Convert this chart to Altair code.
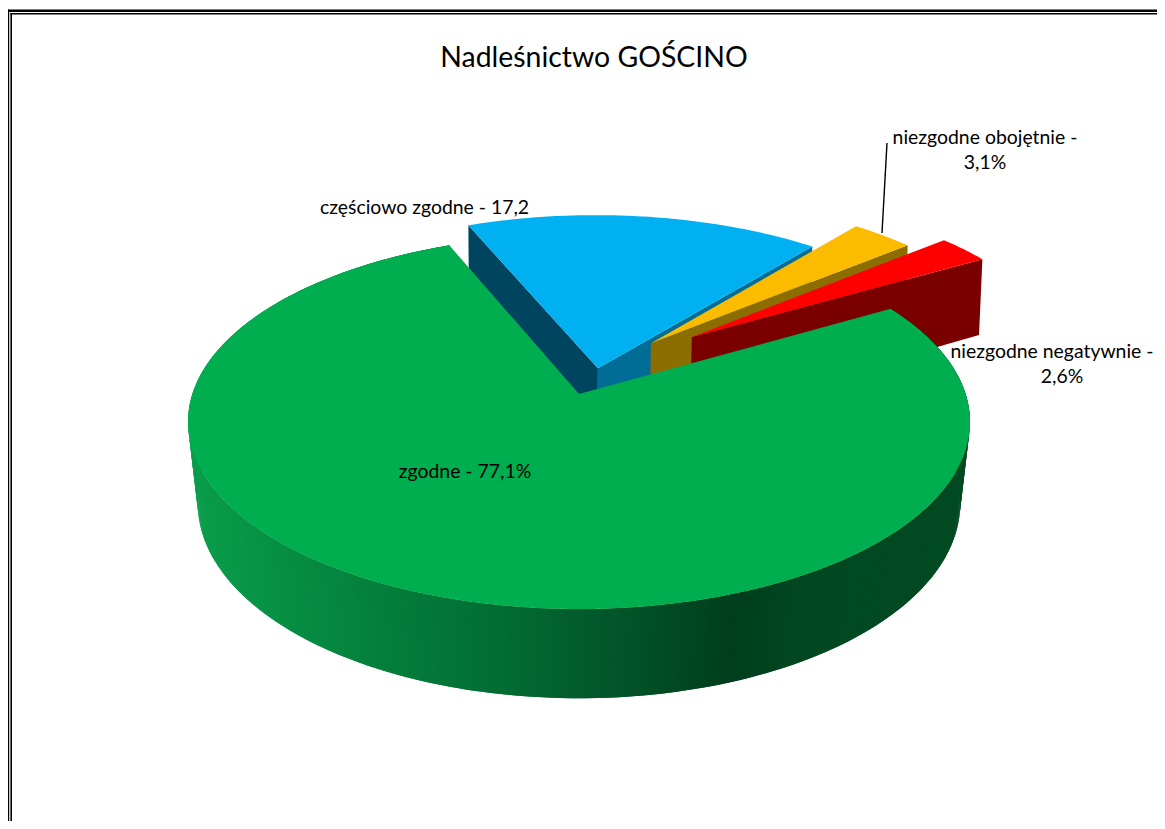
import math
import altair as alt

# ---- data ----
categories = ["zgodne", "częściowo zgodne", "niezgodne obojętnie", "niezgodne negatywnie"]
values = [77.1, 17.2, 3.1, 2.6]
top_colors = ["#00AE50", "#00B0F0", "#FBBC00", "#FF0000"]
left_face_colors = [None, "#00455F", None, None]
right_face_colors = [None, "#006D96", "#8C6D00", "#7A0000"]
explode_x = [0.0, 0.05, 0.194, 0.306]
explode_y = [0.0, 0.144, 0.29, 0.327]
first_angle = 60.0

# wall shading of the big slice: (x position, colour)
wall_x = [190, 300, 400, 500, 600, 680, 730, 800, 970]
wall_rgb = [(10, 158, 75), (6, 140, 66), (3, 124, 58), (2, 108, 50), (2, 88, 42),
            (1, 72, 34), (0, 62, 28), (1, 72, 33), (2, 74, 34)]

title_text = "Nadleśnictwo GOŚCINO"
label_lines = ["częściowo zgodne - 17,2", "niezgodne obojętnie -", "3,1%",
               "niezgodne negatywnie -", "2,6%", "zgodne - 77,1%"]
label_px = [424.5, 985, 985, 1052, 1062, 465]
label_py = [214, 144, 169, 358, 383, 478]

W, H = 1149, 813
OX, OY = 8, 8
CX = 579
TOP = dict(y0=394, s=386.6, cs=183.0, k=0.149)
BOT = dict(y0=478, s=378.0, cs=191.6, k=0.13)


def proj(X, Y, p):
    d = 1 + p["k"] * Y
    return [CX + p["s"] * X / d - OX, p["y0"] - p["cs"] * Y / d - OY]


def poly(points, color):
    ring = [list(q) for q in points] + [list(points[0])]
    return {"type": "Feature",
            "geometry": {"type": "Polygon", "coordinates": [ring]},
            "properties": {"fill": color}}


def wall_color(x):
    x += OX
    if x <= wall_x[0]:
        c = wall_rgb[0]
    elif x >= wall_x[-1]:
        c = wall_rgb[-1]
    else:
        for i in range(len(wall_x) - 1):
            if wall_x[i] <= x <= wall_x[i + 1]:
                t = (x - wall_x[i]) / (wall_x[i + 1] - wall_x[i])
                c = tuple(wall_rgb[i][j] + t * (wall_rgb[i + 1][j] - wall_rgb[i][j]) for j in range(3))
                break
    return "#%02x%02x%02x" % tuple(int(round(v)) for v in c)


# angles clockwise from the far point of the pie
total = sum(values)
spans = []
a = first_angle
for v in values:
    spans.append((a, a + v / total * 360))
    a += v / total * 360


def pt(i, ang):
    t = math.radians(ang)
    return explode_x[i] + math.sin(t), explode_y[i] + math.cos(t)


features = []
# back slices first, then the big one in front
for i in [1, 2, 3, 0]:
    a0, a1 = spans[i]
    n = max(8, int((a1 - a0) * 1.5))
    angs = [a0 + (a1 - a0) * j / n for j in range(n + 1)]
    apex = (explode_x[i], explode_y[i])
    if left_face_colors[i]:
        e = pt(i, a0)
        features.append(poly([proj(*apex, TOP), proj(*e, TOP), proj(*e, BOT), proj(*apex, BOT)], left_face_colors[i]))
    if right_face_colors[i]:
        e = pt(i, a1)
        features.append(poly([proj(*apex, TOP), proj(*e, TOP), proj(*e, BOT), proj(*apex, BOT)], right_face_colors[i]))
    if i == 0:
        for j in range(n):
            p, q = pt(i, angs[j]), pt(i, angs[min(j + 2, n)])
            quad = [proj(*p, TOP), proj(*q, TOP), proj(*q, BOT), proj(*p, BOT)]
            features.append(poly(quad, wall_color((quad[0][0] + quad[1][0] + quad[2][0] + quad[3][0]) / 4)))
    features.append(poly([proj(*apex, TOP)] + [proj(*pt(i, x), TOP) for x in angs], top_colors[i]))

# double frame
frame = [((0, 1.2), (1.5, H)), ((2.4, 4), (5, H)),
         ((0, W), (1.5, 4)), ((2.4, W), (5, 6.5))]
for (x0, x1), (y0, y1) in frame:
    features.append(poly([[x0, y0], [x1, y0], [x1, y1], [x0, y1]], "#000000"))

shapes = (
    alt.Chart(alt.Data(values=features))
    .mark_geoshape(strokeWidth=0)
    .encode(fill=alt.Fill("properties.fill:N", scale=None, legend=None))
    .project(type="identity", scale=1, translate=[0, 0])
)

leader_df = [{"x": 887 - OX, "y": 143 - OY, "x2": 882 - OX, "y2": 233 - OY}]
leader = (
    alt.Chart(alt.Data(values=leader_df))
    .mark_rule(color="#000000", strokeWidth=1.4)
    .encode(
        x=alt.X("x:Q", scale=None, axis=None),
        y=alt.Y("y:Q", scale=None, axis=None),
        x2="x2:Q",
        y2="y2:Q",
    )
)

labels = (
    alt.Chart(alt.Data(values=[{"t": t, "x": x - OX, "y": y - OY} for t, x, y in zip(label_lines, label_px, label_py)]))
    .mark_text(font="Lato", fontSize=19.4, color="#000000", align="center", baseline="alphabetic")
    .encode(x=alt.X("x:Q", scale=None, axis=None), y=alt.Y("y:Q", scale=None, axis=None), text="t:N")
)

title = (
    alt.Chart(alt.Data(values=[{"t": title_text, "x": 594 - OX, "y": 67 - OY}]))
    .mark_text(font="Lato", fontSize=28.4, color="#000000", align="center", baseline="alphabetic")
    .encode(x=alt.X("x:Q", scale=None, axis=None), y=alt.Y("y:Q", scale=None, axis=None), text="t:N")
)

chart = (
    alt.layer(shapes, leader, labels, title)
    .properties(width=W, height=H, padding=0, autosize=alt.AutoSizeParams(type="none"), background="white")
    .configure_view(stroke=None)
)
chart.save("out.html", embed_options={"renderer": "svg", "actions": False})
